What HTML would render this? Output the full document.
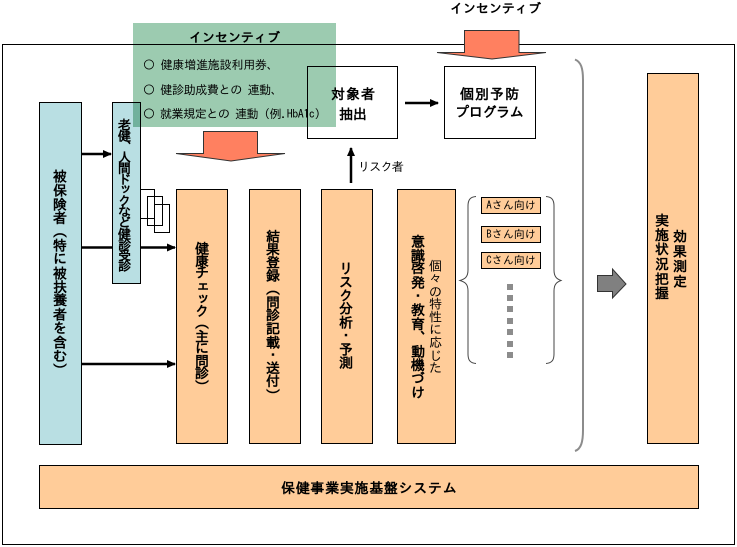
<!DOCTYPE html>
<html lang="ja">
<head>
<meta charset="utf-8">
<style>
html,body{margin:0;padding:0;background:#fff}
#p{position:relative;width:737px;height:547px;overflow:hidden;background:#fff;font-family:"Liberation Sans","IPAGothic","Noto Sans CJK JP",sans-serif;color:#000}
svg{position:absolute;left:0;top:0}
.t{position:absolute;white-space:nowrap;line-height:1}
.j{font-family:"IPAGothic","Noto Sans CJK JP",sans-serif}
.v{writing-mode:vertical-rl;font-family:"IPAGothic","Noto Sans CJK JP",sans-serif;font-weight:bold;font-size:14px}
.b{font-weight:bold;font-family:"IPAGothic","Noto Sans CJK JP",sans-serif}
.g{position:absolute;left:133px;top:23px;width:203px;height:104px;background:#9ccbb0;mix-blend-mode:multiply}
.s{position:absolute;left:481px;width:60px;height:17px;box-sizing:border-box;background:#fc9;border:1px solid #000;font-size:11px;line-height:15px;text-align:center;white-space:nowrap;font-family:"IPAGothic","Noto Sans CJK JP",sans-serif}
</style>
</head>
<body>
<div id="p">
<svg width="737" height="547" viewBox="0 0 737 547">
<defs>
<marker id="a" markerWidth="10" markerHeight="10" refX="8" refY="4" orient="auto" markerUnits="userSpaceOnUse"><path d="M0 0L9 4L0 8Z" fill="#000"/></marker>
</defs>
<rect x="2.5" y="44.5" width="732" height="500" fill="#fff" stroke="#000"/>
<rect x="307.500" y="66.500" width="90" height="72" fill="#fff" stroke="#000"/>
<rect x="444.500" y="66.500" width="91" height="72" fill="#fff" stroke="#000"/>
<g stroke="#000" fill="#fc9">
<rect x="176.500" y="189.500" width="51" height="254"/>
<rect x="249.500" y="189.500" width="51" height="254"/>
<rect x="321.500" y="189.500" width="51" height="254"/>
<rect x="397.500" y="189.500" width="58" height="254"/>
<rect x="647.500" y="73.500" width="51" height="370"/>
<rect x="39.500" y="465.500" width="659" height="43"/>
</g>
<rect x="39.500" y="102.500" width="42" height="342" fill="#b9dfe3" stroke="#000"/>
<g stroke="#000" stroke-width="2.500" fill="none">
<path d="M82 154H111" marker-end="url(#a)"/>
<path d="M82 247.500H175" marker-end="url(#a)"/>
<path d="M82 364H175" marker-end="url(#a)"/>
<path d="M351 183V148" marker-end="url(#a)"/>
<path d="M405 103H438" marker-end="url(#a)"/>
</g>
<g fill="none" stroke="#000">
<rect x="140.500" y="189.500" width="14" height="29"/>
<rect x="147.500" y="196.500" width="15" height="29"/>
<rect x="154.500" y="204.500" width="15" height="28"/>
</g>
<rect x="112.500" y="102.500" width="28" height="181" fill="#b9dfe3" stroke="#000"/>
<g fill="#ff8060" stroke="#333" stroke-width="1">
<path d="M203.500 131.500H257.500V153.500H285L231 161L176 153.500H203.500Z"/>
<path d="M464.500 30.500H519V52.500H546L492 59L437 52.500H464.500Z"/>
</g>
<path d="M597.500 275.500H612.500V269L626 284L612.500 298V291.500H597.500Z" fill="#808080" stroke="#333"/>
<path d="M575 59.500C581 62 583 68 583 80V430C583 442 581 449 575 451" fill="none" stroke="#8c8c8c" stroke-width="2"/>
<g fill="none" stroke="#444">
<path d="M476 196.500C470 197 468 200 468 206V270C468 277 465 279 460 280.500C465 282 468 284 468 291V354C468 360 470 363 476 363.500"/>
<path d="M546 196.500C552 197 554 200 554 206V270C554 277 557 279 561 280.500C557 282 554 284 554 291V354C554 360 552 363 546 363.500"/>
</g>
<g fill="#8c8c8c">
<rect x="507" y="284" width="6" height="6"/>
<rect x="507" y="295" width="6" height="6"/>
<rect x="507" y="306" width="6" height="6"/>
<rect x="507" y="318" width="6" height="6"/>
<rect x="507" y="329" width="6" height="6"/>
<rect x="507" y="341" width="6" height="6"/>
<rect x="507" y="352" width="6" height="6"/>
</g>
</svg>

<div class="t v" style="left:53px;top:168px;letter-spacing:-.2px">被保険者（特に被扶養者を含む）</div>
<div class="t v" style="left:118px;top:117px;font-size:13px;letter-spacing:-2.1px">老健、人間ドックなど健診受診</div>
<div class="t v" style="left:195px;top:240px;letter-spacing:-1.500px">健康チェック（主に問診）</div>
<div class="t v" style="left:266px;top:228px;letter-spacing:-.8px">結果登録（問診記載・送付）</div>
<div class="t v" style="left:339px;top:260px;letter-spacing:-.500px">リスク分析・予測</div>
<div class="t v" style="left:411px;top:233px;letter-spacing:-.3px">意識啓発・教育、動機づけ</div>
<div class="t v" style="left:429px;top:259px;font-weight:normal;font-size:13px;letter-spacing:-.3px">個々の特性に応じた</div>
<div class="t v" style="left:673px;top:228px;letter-spacing:1px">効果測定</div>
<div class="t v" style="left:655px;top:212px;letter-spacing:.5px">実施状況把握</div>

<div class="t b" style="left:331px;top:87px;font-size:14px;letter-spacing:1px">対象者</div>
<div class="t b" style="left:339px;top:107px;font-size:14px">抽出</div>
<div class="t b" style="left:460px;top:87px;font-size:14px;letter-spacing:1px">個別予防</div>
<div class="t b" style="left:455px;top:105px;font-size:14px;letter-spacing:-.3px">プログラム</div>
<div class="t b" style="left:281px;top:481px;font-size:14px;letter-spacing:.7px">保健事業実施基盤システム</div>
<div class="t j" style="left:450px;top:2px;font-size:13px;font-weight:bold">インセンティブ</div>
<div class="t j" style="left:358px;top:161px;font-size:12px;letter-spacing:-.7px">リスク者</div>

<div class="s" style="top:197px">Aさん向け</div>
<div class="s" style="top:226px">Bさん向け</div>
<div class="s" style="top:252px">Cさん向け</div>

<div class="g"></div>
<div class="t j" style="left:189px;top:31px;font-size:13px;font-weight:bold">インセンティブ</div>
<div class="t j" style="left:143px;top:59px;font-size:12px;letter-spacing:-.2px">○ 健康増進施設利用券、</div>
<div class="t j" style="left:143px;top:84px;font-size:12px;letter-spacing:-.35px">○ 健診助成費との 連動、</div>
<div class="t j" style="left:143px;top:108px;font-size:12px;letter-spacing:-.45px">○ 就業規定との 連動（例.HbA1c）</div>
</div>
</body>
</html>
